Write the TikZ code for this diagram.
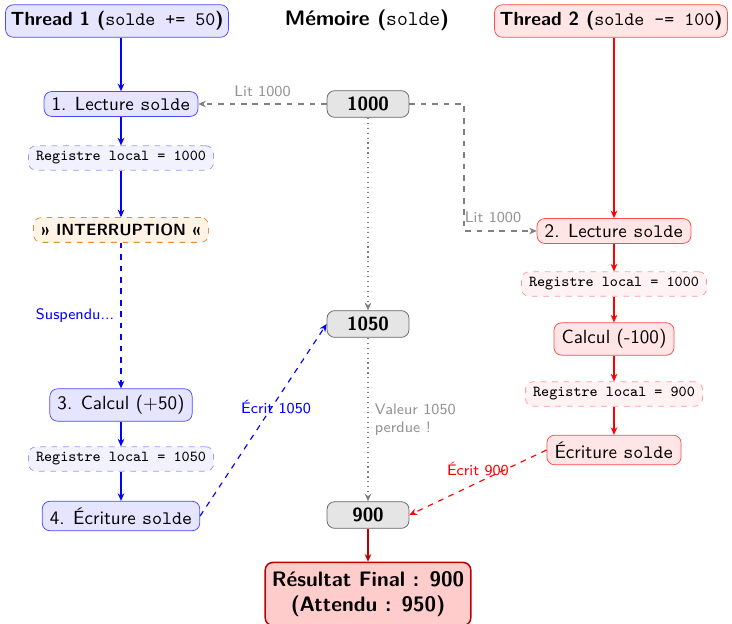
\documentclass[tikz,border=0pt]{standalone}
\usepackage{fontspec}
\usetikzlibrary{arrows.meta}

\definecolor{intborder}{RGB}{225,140,60}
\definecolor{intfill}{RGB}{255,243,230}

\tikzset{
  base/.style={rounded corners=4pt, font=\sffamily, inner xsep=4pt, inner ysep=3pt},
  bluebox/.style={base, draw=blue!70, fill=blue!10},
  redbox/.style={base, draw=red!70, fill=red!10},
  headbox/.style={font=\sffamily\bfseries, minimum height=17pt, inner xsep=2.6pt},
  blueregister/.style={base, draw=blue!40, fill=blue!5, dashed, font=\ttfamily\footnotesize},
  redregister/.style={base, draw=red!40, fill=red!5, dashed, font=\ttfamily\footnotesize},
  membox/.style={base, draw=black!60, fill=gray!20, font=\sffamily\bfseries, minimum width=43pt, minimum height=14pt},
  interbox/.style={base, draw=intborder, fill=intfill, dashed, font=\sffamily\fontsize{8.5}{10}\selectfont\bfseries, minimum height=13pt},
  resultbox/.style={base, draw=red!75!black, fill=red!20, thick, font=\sffamily\fontsize{11}{13.5}\selectfont\bfseries, align=center, inner xsep=3.5pt, inner ysep=4.5pt},
  lbl/.style={font=\sffamily\footnotesize},
  arr/.style={-{Stealth[length=4pt,width=3.5pt]}, semithick},
}

\begin{document}
\begin{tikzpicture}[x=0.525pt, y=-0.525pt]
  \useasboundingbox (0,0) rectangle (732,624);

  % column headers
  \node[bluebox, headbox] (t1) at (117,21) {Thread 1 (\texttt{\mdseries solde += 50})};
  \node[font=\sffamily\fontsize{11}{13}\selectfont\bfseries] (mem) at (367,20) {Mémoire (\texttt{\mdseries solde})};
  \node[redbox, headbox] (t2) at (611,21) {Thread 2 (\texttt{\mdseries solde -= 100})};

  % thread 1
  \node[bluebox] (a1) at (121,104) {1. Lecture \texttt{solde}};
  \node[blueregister] (a2) at (121,158) {Registre local = 1000};
  \node[interbox] (a3) at (121,230) {» INTERRUPTION «};
  \node[bluebox, minimum height=17pt] (a4) at (121,405) {3. Calcul (+50)};
  \node[blueregister] (a5) at (121,459) {Registre local = 1050};
  \node[bluebox, minimum height=15.5pt] (a6) at (121,516) {4. Écriture \texttt{solde}};

  % memory
  \node[membox] (m1) at (368,104) {1000};
  \node[membox] (m2) at (368,324) {1050};
  \node[membox] (m3) at (368,515) {900};
  \node[resultbox] (res) at (368,594) {Résultat Final : 900\\(Attendu : 950)};

  % thread 2
  \node[redbox] (b1) at (614,231) {2. Lecture \texttt{solde}};
  \node[redregister] (b2) at (614,284) {Registre local = 1000};
  \node[redbox, minimum height=17pt] (b3) at (614,339) {Calcul (-100)};
  \node[redregister] (b4) at (614,394) {Registre local = 900};
  \node[redbox, minimum height=15.5pt] (b5) at (614,450) {Écriture \texttt{solde}};

  \coordinate (bend) at (464,160);

  % thread 1 flow
  \draw[arr, blue] (t1.south -| a1) -- (a1);
  \draw[arr, blue] (a1) -- (a2);
  \draw[arr, blue] (a2) -- (a3);
  \draw[arr, blue, dashed] (a3) -- node[lbl, left, text=blue] {Suspendu...} (a4);
  \draw[arr, blue] (a4) -- (a5);
  \draw[arr, blue] (a5) -- (a6);
  \draw[arr, blue, dashed] (a6.east) -- node[lbl, pos=0.57, text=blue, xshift=2pt] {Écrit 1050} (m2.west);

  % thread 2 flow
  \draw[arr, red] (t2.south -| b1) -- (b1);
  \draw[arr, red] (b1) -- (b2);
  \draw[arr, red] (b2) -- (b3);
  \draw[arr, red] (b3) -- (b4);
  \draw[arr, red] (b4) -- (b5);
  \draw[arr, red, dashed] (b5.west) -- node[lbl, midway, above, text=red] {Écrit 900} (m3.east);

  % reads from memory
  \draw[arr, gray, dashed] (m1.west) -- node[lbl, above, text=gray!85] {Lit 1000} (a1.east);
  \draw[arr, gray, dashed] (m1.east) -| (bend) |- (b1.west);
  \node[lbl, text=gray!85] (litr) at (493,217) {Lit 1000};

  % memory timeline
  \draw[arr, gray, dotted] (m1) -- (m2);
  \draw[arr, gray, dotted] (m2) -- node[lbl, right, align=left, text=gray!85] {Valeur 1050\\perdue !} (m3);
  \draw[arr, red!75!black] (m3) -- (res);
\end{tikzpicture}
\end{document}
